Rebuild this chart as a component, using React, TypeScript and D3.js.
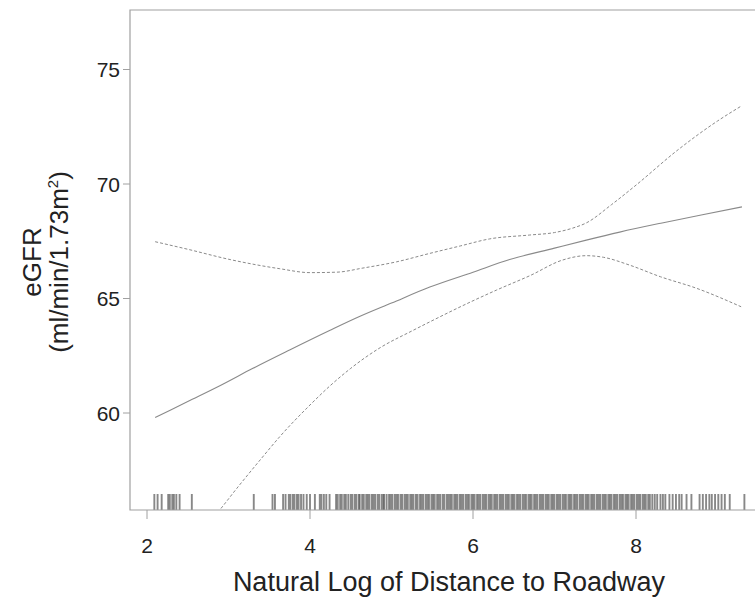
import React from "react";
import * as d3 from "d3";

const xTicks = [2, 4, 6, 8];
const yTicks = [60, 65, 70, 75];

const fitX = [2.1, 2.5, 2.9, 3.3, 3.75, 4.24, 4.6, 5.0, 5.47, 6.0, 6.45, 7.0, 7.39, 7.8, 8.32, 8.8, 9.3];
const fitY = [59.8, 60.5, 61.2, 61.95, 62.75, 63.6, 64.2, 64.8, 65.5, 66.15, 66.7, 67.2, 67.55, 67.9, 68.3, 68.65, 69.0];

const upperX = [2.1, 2.5, 3.02, 3.63, 4.0, 4.33, 4.65, 5.06, 5.47, 5.85, 6.2, 6.69, 7.0, 7.22, 7.39, 7.7, 8.0, 8.5, 9.0, 9.29];
const upperY = [67.48, 67.15, 66.7, 66.3, 66.13, 66.15, 66.33, 66.6, 66.97, 67.3, 67.6, 67.77, 67.88, 68.07, 68.3, 69.1, 69.95, 71.45, 72.75, 73.4];

const lowerX = [2.5, 2.9, 3.1, 3.4, 3.63, 4.0, 4.25, 4.5, 4.86, 5.26, 5.47, 6.0, 6.29, 6.7, 7.1, 7.39, 7.6, 7.92, 8.3, 8.74, 9.29];
const lowerY = [54.2, 55.8, 56.7, 58.0, 58.97, 60.35, 61.2, 61.95, 62.85, 63.6, 63.98, 64.9, 65.37, 66.0, 66.68, 66.87, 66.8, 66.46, 65.95, 65.45, 64.64];

const rugValues = [
  2.09, 2.13, 2.18, 2.26, 2.28, 2.31, 2.33, 2.36, 2.4, 2.55,
  3.31, 3.54, 3.57, 3.67, 3.7, 3.74, 3.76, 3.79, 3.81, 3.84, 3.86, 3.89, 3.92, 3.96, 4.0, 4.06,
  4.12, 4.14, 4.17, 4.2, 4.24, 4.32, 4.34, 4.37, 4.39, 4.42, 4.44, 4.47,
  4.5, 4.52, 4.55, 4.57, 4.6, 4.61, 4.64, 4.66, 4.69, 4.71, 4.73, 4.76, 4.78, 4.8, 4.83, 4.85,
  4.88, 4.9, 4.91, 4.94, 4.97, 4.99, 5.01, 5.04, 5.06, 5.08, 5.11, 5.13, 5.16, 5.18, 5.2, 5.23,
  5.25, 5.27, 5.3, 5.32, 5.35, 5.37, 5.39, 5.42, 5.44, 5.46, 5.49, 5.51, 5.53, 5.56, 5.58, 5.6,
  5.63, 5.65, 5.68, 5.7, 5.72, 5.74, 5.77, 5.79, 5.81, 5.84, 5.86, 5.88, 5.91, 5.93, 5.95, 5.98,
  6.0, 6.02, 6.05, 6.07, 6.09, 6.12, 6.14, 6.16, 6.19, 6.21, 6.23, 6.26, 6.28, 6.3, 6.33, 6.35,
  6.37, 6.4, 6.42, 6.44, 6.47, 6.49, 6.51, 6.54, 6.56, 6.58, 6.61, 6.63, 6.65, 6.68, 6.7, 6.72,
  6.75, 6.77, 6.79, 6.82, 6.84, 6.86, 6.89, 6.91, 6.93, 6.96, 6.98, 7.0, 7.03, 7.05, 7.07, 7.1,
  7.12, 7.14, 7.17, 7.19, 7.21, 7.24, 7.26, 7.28, 7.31, 7.33, 7.35, 7.38, 7.4, 7.42, 7.45, 7.47,
  7.49, 7.52, 7.54, 7.56, 7.59, 7.61, 7.63, 7.66, 7.68, 7.7, 7.73, 7.75, 7.77, 7.8, 7.82, 7.84,
  7.87, 7.89, 7.91, 7.94, 7.96, 7.98, 8.01, 8.03, 8.05, 8.08, 8.1, 8.12, 8.15, 8.17, 8.2, 8.23,
  8.26, 8.3, 8.33, 8.36, 8.41, 8.45, 8.49, 8.53, 8.56, 8.62, 8.68, 8.78, 8.82, 8.86, 8.9, 8.93,
  8.97, 9.01, 9.05, 9.09, 9.15, 9.33,
];

const W = 755;
const H = 600;
const left = 130;
const top = 10;
const bottom = 510;
const right = 755;

export default function App() {
  const x = d3.scaleLinear().domain([2, 8]).range([147, 636]);
  const y = d3.scaleLinear().domain([60, 75]).range([413, 69.5]);
  const line = d3
    .line<[number, number]>()
    .x((d) => x(d[0]))
    .y((d) => y(d[1]))
    .curve(d3.curveMonotoneX);
  const zip = (a: number[], b: number[]) => a.map((v, i) => [v, b[i]] as [number, number]);
  const font = "'Liberation Sans', Arial, sans-serif";
  const textColor = "#222";
  const axisColor = "#a0a0a0";
  const curveColor = "#8a8a8a";
  return (
    <svg width={W} height={H} style={{ position: "absolute", left: 0, top: 0, background: "#fff" }}>
      <defs>
        <clipPath id="plot">
          <rect x={left} y={top} width={right - left} height={bottom - top} />
        </clipPath>
      </defs>
      {/* rug */}
      <g>
        {rugValues.map((v, i) => (
          <line key={i} x1={x(v)} x2={x(v)} y1={494} y2={bottom} stroke="#555" strokeWidth={1.9} strokeOpacity={0.7} />
        ))}
      </g>
      <g clipPath="url(#plot)" fill="none">
        <path d={line(zip(fitX, fitY)) || ""} stroke={curveColor} strokeWidth={1.1} />
        <path d={line(zip(upperX, upperY)) || ""} stroke={curveColor} strokeWidth={1} strokeDasharray="3,2" />
        <path d={line(zip(lowerX, lowerY)) || ""} stroke={curveColor} strokeWidth={1} strokeDasharray="3,2" />
      </g>
      {/* frame */}
      <path d={`M${right},${top}H${left}V${bottom}H${right}`} fill="none" stroke={axisColor} strokeWidth={1.2} />
      {/* y axis */}
      {yTicks.map((t) => (
        <g key={t}>
          <line x1={left - 7} x2={left} y1={y(t)} y2={y(t)} stroke={axisColor} strokeWidth={1} />
          <text x={left - 10} y={y(t)} dy="0.36em" textAnchor="end" fontFamily={font} fontSize={21} fill={textColor}>
            {t}
          </text>
        </g>
      ))}
      {/* x axis */}
      {xTicks.map((t) => (
        <g key={t}>
          <line x1={x(t)} x2={x(t)} y1={bottom} y2={bottom + 9} stroke={axisColor} strokeWidth={1} />
          <text x={x(t)} y={553} textAnchor="middle" fontFamily={font} fontSize={21} fill={textColor}>
            {t}
          </text>
        </g>
      ))}
      <text x={449} y={591} textAnchor="middle" fontFamily={font} fontSize={27} fill={textColor}>
        Natural Log of Distance to Roadway
      </text>
      <g transform="translate(0,262) rotate(-90)">
        <text x={0} y={41} textAnchor="middle" fontFamily={font} fontSize={26} fill={textColor}>
          eGFR
        </text>
        <text x={0} y={68} textAnchor="middle" fontFamily={font} fontSize={26} fill={textColor}>
          <tspan>(ml/min/1.73m</tspan>
          <tspan fontSize={15} dy={-10}>2</tspan>
          <tspan dy={10}>)</tspan>
        </text>
      </g>
    </svg>
  );
}
